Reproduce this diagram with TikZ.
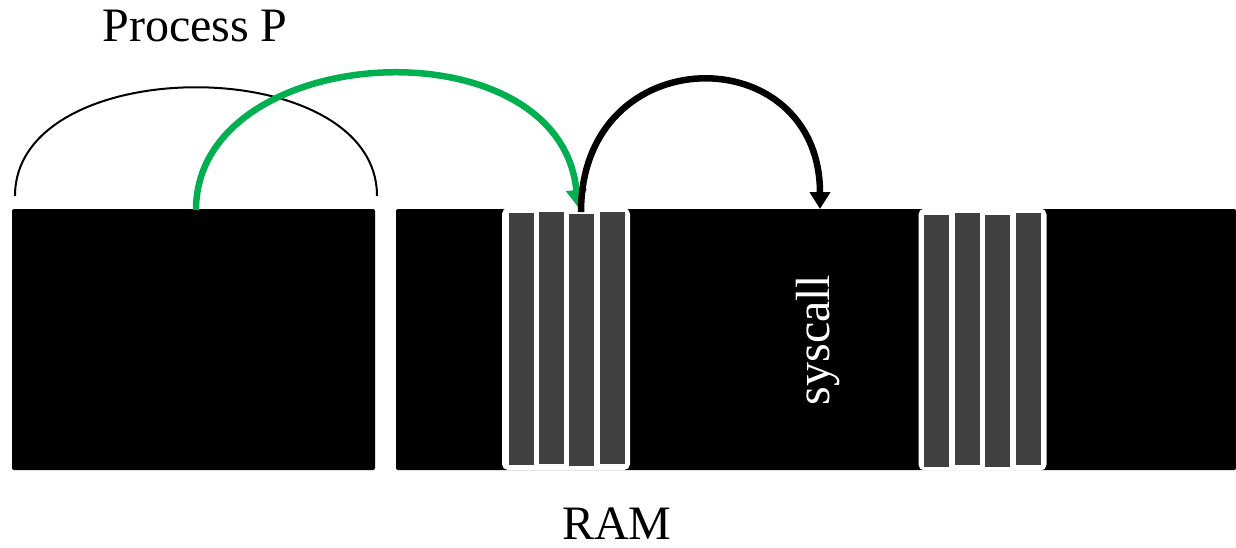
\documentclass[tikz,border=0pt]{standalone}
\usepackage{fontspec}
\setmainfont{Liberation Serif}
\usetikzlibrary{arrows.meta}
\definecolor{bargray}{RGB}{64,64,64}
\definecolor{arrgreen}{RGB}{0,176,80}
\begin{document}
\begin{tikzpicture}[x=0.5pt,y=-0.5pt,
  blk/.style={fill=black,draw=none,rounded corners=1pt,inner sep=0pt,minimum height=130.5pt},
  grp/.style={fill=white,draw=white,line width=1pt,rounded corners=2.5pt,inner sep=0pt,minimum width=63pt,minimum height=130pt},
  bar/.style={fill=bargray,draw=none,inner sep=0pt,minimum width=12.5pt,minimum height=126pt},
  lbl/.style={font=\fontsize{24}{28}\selectfont,inner sep=0pt},
  thick arc/.style={line width=3.25pt,-{Triangle[length=8.5pt,width=10pt]}}
]
\useasboundingbox (0,0) rectangle (1236,547);
% memory blocks
\node[blk,minimum width=181.5pt] (proc) at (193.5,339.5) {};
\node[blk,minimum width=420pt] (ram) at (816,339.5) {};
% stripe group 1
\node[grp] (g1) at (566,339) {};
\node[bar] (b11) at (521,339) {};
\node[bar] (b12) at (551,338) {};
\node[bar] (b13) at (581.5,340) {};
\node[bar] (b14) at (612,338) {};
% stripe group 2
\node[grp] (g2) at (982.5,339.5) {};
\node[bar] (b21) at (936.5,340.5) {};
\node[bar] (b22) at (967,339) {};
\node[bar] (b23) at (997,341) {};
\node[bar] (b24) at (1028,339) {};
% labels
\node[lbl] (pp) at (195,26) {Process P};
\node[lbl] (ramlbl) at (617,524) {RAM};
\node[lbl,text=white,rotate=90] (sys) at (818,340) {syscall};
% coordinates
\coordinate (pl) at (15,196);
\coordinate (pr) at (377,196);
\coordinate (gs) at (196,210);
\coordinate (ge) at (578,207);
\coordinate (ks) at (581,212);
\coordinate (ke) at (820,209);
% arcs
\draw[line width=1pt] (pl) .. controls (15,51) and (377,51) .. (pr);
\draw[thick arc,draw=arrgreen,arrgreen] (gs) .. controls (196,40) and (560,20) .. (ge);
\draw[thick arc] (ks) .. controls (581,37) and (820,37) .. (ke);
\end{tikzpicture}
\end{document}
